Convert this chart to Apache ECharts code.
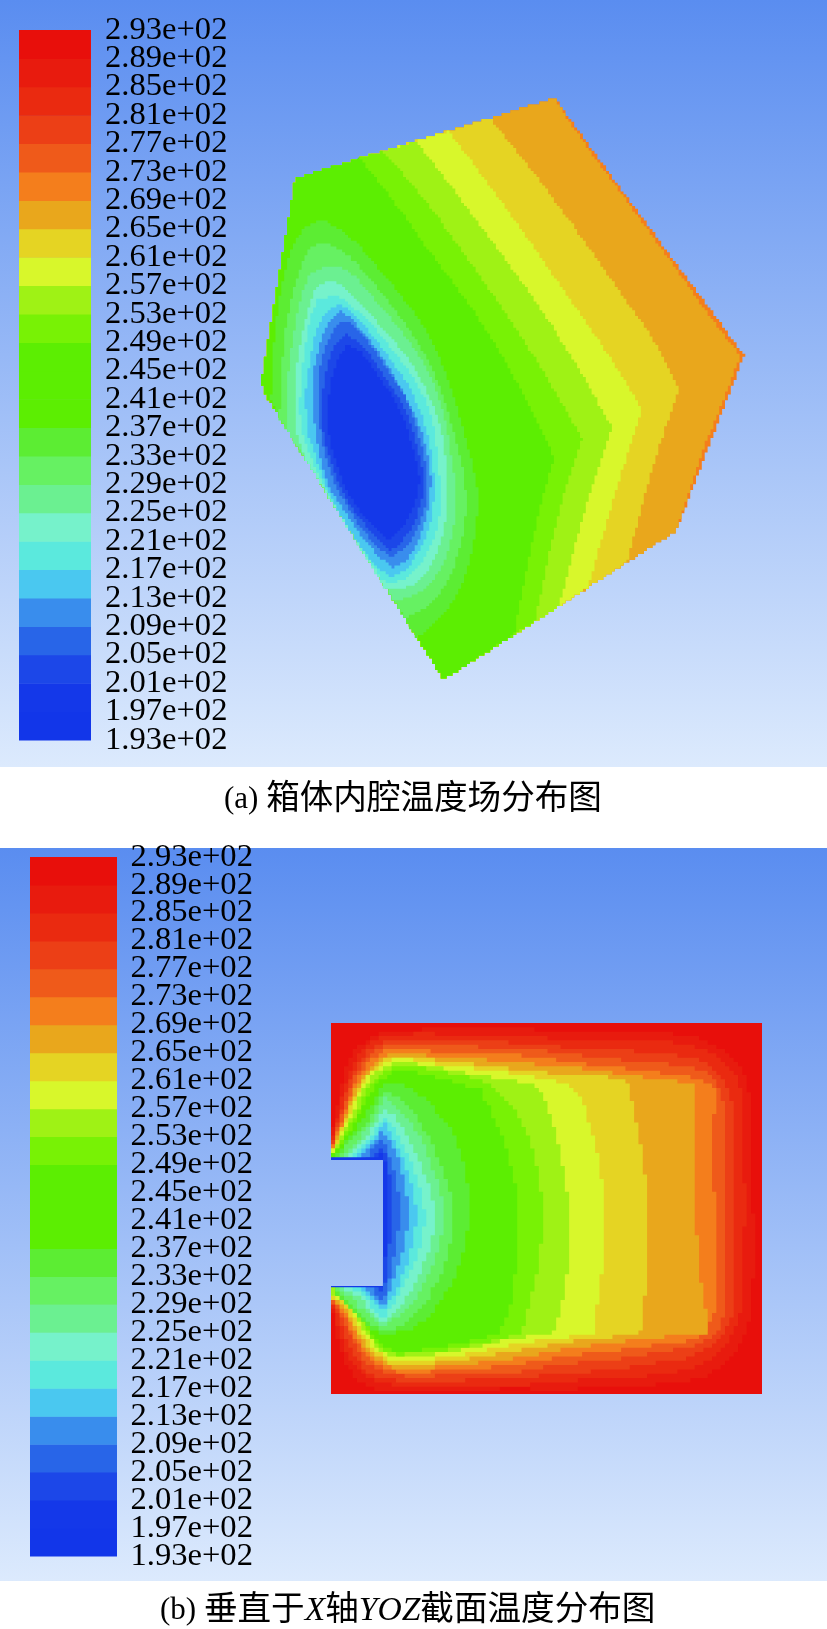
<!DOCTYPE html>
<html><head><meta charset="utf-8">
<style>html,body{margin:0;padding:0;background:#fff}#c{width:827px;height:1629px}</style>
<script src="https://cdn.jsdelivr.net/npm/echarts@6/dist/echarts.min.js"></script></head>
<body><div id="c"></div>
<script>
// Legend: tick labels bottom to top and one colour per 4 K band
const tickLabels = ['1.93e+02','1.97e+02','2.01e+02','2.05e+02','2.09e+02','2.13e+02','2.17e+02','2.21e+02','2.25e+02','2.29e+02','2.33e+02','2.37e+02','2.41e+02','2.45e+02','2.49e+02','2.53e+02','2.57e+02','2.61e+02','2.65e+02','2.69e+02','2.73e+02','2.77e+02','2.81e+02','2.85e+02','2.89e+02','2.93e+02'];
const bandColors = ['#1236e9','#1438e9','#1c47e8','#2865e8','#398ded','#4ac8f0','#5be9dd','#76f2cb','#6bf091','#66f162','#5ced33','#5cee02','#5cee02','#5cee02','#78f205','#9ff215','#d8f72b','#e5d423','#e9a71c','#f47e1c','#ef5a1a','#ec3f16','#ea2a10','#e81b0e','#e80f0b'];

// Panel (a): cavity outline and isotherms
const hexRim = [[554,98],[744,356],[676,532]];
const hexTail = [[444,680],[405,618],[323,487],[288,430],[267,397],[261,383],[295,178]];
const isoA18 = [[554,98],[578,136],[648,230],[709,316],[740,356],[726,395],[703,450],[676,532]];
const isoA17 = [[489,118],[527,164],[575,228],[622,296],[654,339],[679,391],[654,461],[627,563]];
const isoA16 = [[448,131],[485,180],[527,238],[575,307],[612,360],[642,410],[617,487],[588,588]];
const isoA15 = [[416,141],[454,191],[501,254],[543,312],[580,371],[612,428],[585,508],[559,607]];
const isoA14 = [[382,151],[422,196],[464,254],[512,323],[549,381],[582,440],[559,508],[535,622]];
const isoA13 = [[359,158],[390,196],[427,249],[475,312],[517,381],[554,458],[533,535],[514,635]];
const coreA10 = [[271,400],[272,370],[275,330],[280,293],[287,260],[300,230],[320,219],[347,233],[377,267],[407,303],[430,337],[450,383],[463,430],[477,480],[478,513],[473,550],[460,593],[440,620],[417,638],[405,618],[323,487],[288,430]];
const coreA9 = [[279,418],[282,383],[283,343],[290,303],[300,267],[310,248],[325,242],[347,253],[373,283],[400,317],[423,350],[440,387],[453,430],[463,467],[467,507],[462,543],[450,580],[430,607],[405,618],[323,487],[288,430]];
const coreA8 = [[286,428],[287,403],[288,370],[293,337],[300,297],[310,273],[330,265],[350,270],[377,303],[403,333],[427,367],[440,400],[447,430],[453,467],[457,503],[452,540],[442,570],[423,593],[395,602],[323,487]];
const coreA7 = [[305,458],[295,430],[295,380],[300,343],[307,313],[313,290],[327,280],[340,283],[363,307],[390,337],[410,360],[430,397],[442,430],[447,470],[448,503],[443,537],[432,567],[413,587],[385,588],[323,487]];
const coreA6 = [[324,487],[312,460],[300,430],[300,383],[305,347],[310,317],[317,300],[335,295],[347,302],[370,323],[393,350],[413,377],[427,403],[435,430],[438,467],[442,497],[437,533],[425,558],[410,578],[390,584],[382,579]];
const coreA5 = [[307,430],[305,387],[310,360],[315,333],[322,317],[338,303],[350,310],[373,337],[393,363],[413,393],[427,430],[433,463],[435,497],[430,527],[418,553],[410,568],[393,577],[380,570],[363,550],[343,520],[327,490],[318,463]];
const coreA4 = [[340,310],[325,327],[318,350],[312,377],[312,403],[315,430],[322,467],[330,490],[345,513],[363,540],[382,560],[393,568],[407,560],[417,543],[427,517],[432,480],[427,450],[422,430],[410,403],[393,373],[373,343],[353,320]];
const coreA3 = [[345,320],[333,330],[323,353],[318,380],[318,403],[320,430],[325,457],[337,490],[353,517],[373,543],[390,558],[405,548],[418,530],[427,500],[428,477],[423,450],[417,430],[407,397],[390,373],[370,343],[357,327]];
const coreA2 = [[347,333],[333,347],[325,373],[322,403],[322,430],[327,450],[340,490],[360,520],[380,542],[390,552],[400,543],[413,527],[422,500],[425,477],[418,450],[413,430],[403,403],[387,380],[367,350]];
const coreA1 = [[347,345],[337,360],[330,385],[327,415],[330,445],[345,490],[365,520],[388,540],[405,525],[418,495],[420,475],[412,445],[405,420],[392,395],[375,370],[360,350]];

// Panel (b): section outline and isotherms. Each isotherm lists four stretches
// read from four magnified views: upper-left, upper-right, lower-right, lower-left.
const sectionOutline = [[331,1023],[762,1023],[762,1394],[331,1394],[331,1286],[383,1286],[383,1160],[331,1160]];
const viewOrigins = [[320,1010],[520,1010],[520,1210],[320,1210]];
const notch = {top:1160,bottom:1286,right:383};
const iso23=[[[35,375],[50,300],[65,210],[95,130],[135,90],[190,65],[300,58],[450,55],[600,55]],[[100,62],[300,65],[470,70],[560,90],[640,140],[695,230],[700,600]],[[700,290],[680,370],[620,470],[520,515],[330,530],[100,540]],[[600,535],[400,540],[200,545],[130,525],[80,470],[55,400],[42,330],[35,270]]];
const iso22=[[[35,390],[55,310],[75,220],[105,140],[150,95],[200,75],[300,70],[450,75],[600,75]],[[120,90],[300,90],[450,95],[550,115],[620,160],[670,230],[675,600]],[[670,290],[630,400],[560,465],[460,490],[300,505],[85,515],[0,530]],[[400,530],[220,530],[130,500],[85,440],[60,380],[42,310],[35,275]]];
const iso21=[[[35,400],[60,310],[85,220],[115,150],[160,105],[215,90],[300,88],[450,95],[600,98]],[[100,110],[280,120],[430,130],[530,145],[600,190],[645,280],[645,600]],[[645,290],[620,370],[540,440],[400,460],[280,480],[80,495],[0,505]],[[400,512],[230,515],[140,490],[95,420],[70,360],[47,295],[35,272]]];
const iso20=[[[36,405],[65,310],[92,225],[125,160],[170,115],[225,100],[300,105],[450,110],[600,115]],[[90,125],[250,145],[420,160],[530,170],[590,215],[615,280],[615,600]],[[620,280],[600,360],[530,410],[400,430],[280,450],[100,465],[0,488]],[[400,497],[230,500],[150,470],[105,410],[78,340],[52,290],[35,270]]];
const iso19=[[[36,412],[70,315],[100,225],[135,165],[180,125],[235,112],[320,125],[450,125],[600,135]],[[100,150],[260,170],[440,190],[540,205],[585,240],[585,290],[575,380],[585,600]],[[585,100],[590,260],[585,320],[530,390],[400,405],[270,425],[120,440],[0,465]],[[400,482],[230,490],[160,460],[115,405],[85,335],[55,285],[35,268]]];
const iso18=[[[36,418],[75,315],[108,225],[145,170],[190,135],[240,122],[330,140],[450,145],[600,160]],[[100,165],[300,190],[400,210],[530,218],[525,450]],[[530,100],[545,240],[570,375],[480,375],[400,385],[270,400],[140,415],[0,445]],[[400,468],[230,480],[165,450],[122,400],[92,330],[60,280],[35,266]]];
const iso17=[[[36,422],[80,320],[115,225],[152,175],[195,145],[240,135],[340,150],[450,160],[600,180]],[[150,195],[320,205],[345,320],[375,480],[382,600]],[[380,230],[360,375],[215,385],[90,405],[0,422]],[[400,455],[230,470],[172,440],[128,390],[98,325],[65,275],[36,264]]];
const iso16=[[[36,426],[85,325],[122,225],[160,180],[200,150],[240,140],[345,165],[470,175],[600,195]],[[60,205],[150,225],[180,260],[215,360],[240,470],[255,600]],[[255,100],[240,230],[220,375],[100,385],[0,400]],[[400,442],[230,458],[178,430],[135,385],[105,320],[70,272],[36,262]]];
const iso15=[[[36,430],[92,325],[130,228],[170,185],[205,165],[240,152],[360,175],[480,195],[600,215]],[[40,225],[75,270],[100,350],[130,470],[150,600]],[[145,180],[130,270],[100,375],[0,380]],[[400,428],[230,445],[185,425],[140,375],[110,312],[75,268],[38,258]]];
const iso14=[[[38,432],[100,330],[140,235],[175,195],[240,165],[360,182],[480,210],[540,245],[600,325]],[[35,400],[55,480],[70,600]],[[60,150],[40,240],[15,340],[0,375]],[[400,420],[230,437],[190,420],[145,370],[115,305],[80,262],[40,254]]];
const iso13=[[[38,434],[105,340],[150,245],[185,205],[240,175],[360,205],[480,240],[560,400],[600,600]],[],[],[[590,150],[575,300],[535,375],[400,408],[230,428],[190,410],[150,362],[120,298],[85,258],[42,250]]];
const iso10=[[[42,436],[120,340],[170,260],[190,220],[260,225],[340,290],[400,370],[440,480],[450,600]],[],[],[[430,150],[360,290],[280,360],[190,375],[120,330],[70,270],[42,242]]];
const iso9=[[[50,436],[140,340],[190,240],[270,290],[350,430],[410,600]],[],[],[[385,150],[320,280],[260,340],[190,370],[120,310],[70,265],[45,240]]];
const iso8=[[[70,436],[150,350],[190,260],[260,320],[320,420],[380,600]],[],[],[[355,130],[290,280],[190,350],[130,300],[85,255],[60,240]]];
const iso7=[[[85,437],[165,345],[190,290],[240,340],[300,450],[350,600]],[],[],[[330,130],[260,270],[190,345],[150,295],[100,245],[75,238]]];
const iso6=[[[100,436],[175,350],[190,315],[230,360],[280,470],[320,600]],[],[],[[300,130],[240,250],[190,330],[160,290],[110,240],[90,237]]];
const iso5=[[[110,438],[180,360],[190,340],[215,370],[260,480],[295,600]],[],[],[[275,130],[225,250],[190,310],[165,270],[130,240],[110,234]]];
const iso4=[[[125,438],[185,365],[230,420],[270,600]],[],[],[[250,130],[210,240],[190,300],[165,262],[140,235]]];
const iso3=[[[140,440],[185,385],[215,450],[245,600]],[],[],[[225,130],[205,220],[190,280],[170,250],[155,232]]];
const iso2=[[[160,445],[188,405],[205,460],[220,600]],[],[],[[205,130],[197,210],[190,250],[180,235],[170,230]]];
const iso1=[[[34,440],[150,445],[190,425],[198,470],[205,600]],[],[],[[195,130],[192,225],[150,232],[34,233]]];

// Outline handling: soften gentle bends, keep real corners, then step along the solver's cells
function soften(pts){
  let cur=pts;
  for(let pass=0;pass<2;pass++){
    const out=[cur[0]];
    for(let i=1;i<cur.length-1;i++){
      const a=cur[i-1],b=cur[i],c=cur[i+1];
      let d=Math.abs(Math.atan2(c[1]-b[1],c[0]-b[0])-Math.atan2(b[1]-a[1],b[0]-a[0]));
      if(d>Math.PI)d=2*Math.PI-d;
      if(d>40*Math.PI/180)out.push(b);
      else out.push([b[0]+(a[0]-b[0])*.25,b[1]+(a[1]-b[1])*.25],[b[0]+(c[0]-b[0])*.25,b[1]+(c[1]-b[1])*.25]);
    }
    out.push(cur[cur.length-1]);
    cur=out;
  }
  return cur;
}
function cells(pts,size,ox,oy,closed){
  const snap=p=>[ox+Math.round((p[0]-ox)/size)*size,oy+Math.round((p[1]-oy)/size)*size];
  const out=[];
  const add=q=>{
    const l=out[out.length-1];
    if(!l){out.push(q);return;}
    if(l[0]===q[0]&&l[1]===q[1])return;
    if(l[0]!==q[0]&&l[1]!==q[1])out.push([q[0],l[1]]);
    out.push(q);
  };
  const m=closed?pts.length:pts.length-1;
  for(let i=0;i<m;i++){
    const a=pts[i],b=pts[(i+1)%pts.length];
    const n=Math.max(1,Math.ceil(Math.hypot(b[0]-a[0],b[1]-a[1])/(size/2)));
    for(let k=0;k<n;k++)add(snap([a[0]+(b[0]-a[0])*k/n,a[1]+(b[1]-a[1])*k/n]));
  }
  if(!closed)add(snap(pts[pts.length-1]));
  return out;
}
function toPicture(stretches){
  const pts=[];
  stretches.forEach((s,i)=>s.forEach(p=>pts.push([viewOrigins[i][0]+p[0]/3,viewOrigins[i][1]+p[1]/3])));
  return pts;
}
function closeAtNotch(stretches){
  const p=soften(toPicture(stretches));
  const open=cells(p,4.33,331,1023,false),a=open[0],z=open[open.length-1];
  return open.concat([[z[0],notch.bottom],[notch.right,notch.bottom],[notch.right,notch.top],[a[0],notch.top]]);
}
const cellA=p=>cells(p,2.9,0,0,true);
const polysA=[
  [19,cellA(hexRim.concat(hexTail))],
  [18,cellA(soften(isoA18).concat(hexTail))],[17,cellA(soften(isoA17).concat(hexTail))],[16,cellA(soften(isoA16).concat(hexTail))],
  [15,cellA(soften(isoA15).concat(hexTail))],[14,cellA(soften(isoA14).concat(hexTail))],[13,cellA(soften(isoA13).concat(hexTail))],
  [10,cellA(soften(coreA10))],[9,cellA(soften(coreA9))],[8,cellA(soften(coreA8))],[7,cellA(soften(coreA7))],[6,cellA(soften(coreA6))],
  [5,cellA(soften(coreA5))],[4,cellA(soften(coreA4))],[3,cellA(soften(coreA3))],[2,cellA(soften(coreA2))],[1,cellA(soften(coreA1))]
];
const polysB=[[24,sectionOutline]].concat(
  [[23,iso23],[22,iso22],[21,iso21],[20,iso20],[19,iso19],[18,iso18],[17,iso17],[16,iso16],[15,iso15],[14,iso14],[13,iso13],
   [10,iso10],[9,iso9],[8,iso8],[7,iso7],[6,iso6],[5,iso5],[4,iso4],[3,iso3],[2,iso2],[1,iso1]].map(d=>[d[0],closeAtNotch(d[1])])
);

const sky=(a,b)=>({type:'linear',x:0,y:0,x2:0,y2:1,colorStops:[{offset:0,color:a},{offset:1,color:b}]});
const serif="'Liberation Serif','Noto Sans CJK SC',serif";
const grids=[
 {left:0,top:0,width:827,height:767,show:true,borderWidth:0,backgroundColor:sky('#5a8df0','#dceafd')},
 {left:19,top:30,width:72,height:710},
 {left:0,top:848,width:827,height:733,show:true,borderWidth:0,backgroundColor:sky('#5a8df0','#dceafd')},
 {left:30,top:857,width:87,height:699}
];
const hidden={show:false};
const xAxes=[
 {gridIndex:0,type:'value',min:0,max:827,...hidden},
 {gridIndex:1,type:'value',min:0,max:1,...hidden},
 {gridIndex:2,type:'value',min:0,max:827,...hidden},
 {gridIndex:3,type:'value',min:0,max:1,...hidden}
];
const legendAxis=(g,margin)=>({gridIndex:g,type:'category',data:tickLabels,boundaryGap:false,position:'right',
  axisLine:{show:false},axisTick:{show:false},splitLine:{show:false},
  axisLabel:{interval:0,margin:margin,color:'#000',fontFamily:serif,fontSize:32.6,padding:[2,0,0,0],showMinLabel:true,showMaxLabel:true,hideOverlap:false}});
const yAxes=[
 {gridIndex:0,type:'value',min:0,max:767,inverse:true,...hidden},
 legendAxis(1,14),
 {gridIndex:2,type:'value',min:848,max:1581,inverse:true,...hidden},
 legendAxis(3,13.5)
];
function mapSeries(ax,polys){
  return {type:'custom',xAxisIndex:ax,yAxisIndex:ax,silent:true,animation:false,clip:false,
    data:polys.map((p,i)=>[i,p[0]]),
    renderItem:(params,api)=>{
      const p=polys[api.value(0)];
      return {type:'polygon',shape:{points:p[1].map(q=>api.coord(q))},style:{fill:bandColors[p[0]]}};
    }};
}
function legendSeries(ax){
  return {type:'custom',xAxisIndex:ax,yAxisIndex:ax,silent:true,animation:false,clip:false,
    data:bandColors.map((c,i)=>[i,i]),
    encode:{x:0,y:1},
    renderItem:(params,api)=>{
      const i=params.dataIndex;
      const a=api.coord([0,i]),b=api.coord([1,i+1]);
      return {type:'rect',shape:{x:a[0],y:b[1],width:b[0]-a[0],height:a[1]-b[1]+0.5},style:{fill:bandColors[i]}};
    }};
}
const cap={c:{fontFamily:serif,fontSize:33.6,fontWeight:'normal',color:'#000'},l:{fontFamily:serif,fontSize:31,fontWeight:'normal',color:'#000'},i:{fontFamily:serif,fontSize:33.6,fontWeight:'normal',fontStyle:'italic',color:'#000'}};
const chart=echarts.init(document.getElementById('c'),null,{renderer:'canvas'});
chart.setOption({
  animation:false,
  backgroundColor:'#fff',
  grid:grids,xAxis:xAxes,yAxis:yAxes,
  title:[
   {text:'{l|(a) }{c|箱体内腔温度场分布图}',left:224,top:783,padding:0,textStyle:{fontWeight:'normal',rich:cap}},
   {text:'{l|(b) }{c|垂直于}{i|X}{c|轴}{i|YOZ}{c|截面温度分布图}',left:160,top:1594,padding:0,textStyle:{fontWeight:'normal',rich:cap}}
  ],
  series:[mapSeries(0,polysA),legendSeries(1),mapSeries(2,polysB),legendSeries(3)]
});
</script></body></html>
